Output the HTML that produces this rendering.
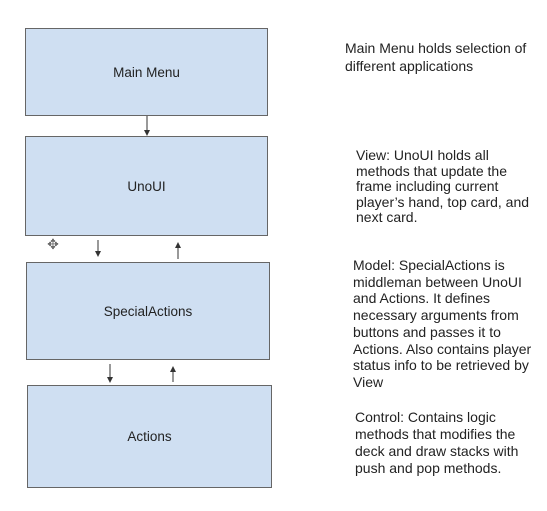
<!DOCTYPE html>
<html><head><style>
body{margin:0;width:547px;height:511px;background:#fff;position:relative;font-family:"Liberation Sans",sans-serif;overflow:hidden}
.b{position:absolute;background:#cfdff2;border:1.5px solid #666;box-sizing:border-box;display:flex;align-items:center;justify-content:center;font-size:13.5px;color:#222}
.t{position:absolute;font-size:14px;color:#222;white-space:nowrap}
svg{position:absolute;left:0;top:0}
</style></head><body>
<div class="b" style="left:25px;top:28px;width:243px;height:88px">Main Menu</div>
<div class="b" style="left:25px;top:136px;width:243px;height:100px">UnoUI</div>
<div class="b" style="left:26px;top:262px;width:244px;height:98px">SpecialActions</div>
<div class="b" style="left:27px;top:385px;width:245px;height:103px">Actions</div>
<div class="t" style="left:345px;top:39px;line-height:18px">Main Menu holds selection of<br>different applications</div>
<div class="t" style="left:356px;top:148px;line-height:15.5px">View: UnoUI holds all<br>methods that update the<br>frame including current<br>player’s hand, top card, and<br>next card.</div>
<div class="t" style="left:353px;top:257px;line-height:16.7px">Model: SpecialActions is<br>middleman between UnoUI<br>and Actions. It defines<br>necessary arguments from<br>buttons and passes it to<br>Actions. Also contains player<br>status info to be retrieved by<br>View</div>
<div class="t" style="left:355px;top:409px;line-height:17px">Control: Contains logic<br>methods that modifies the<br>deck and draw stacks with<br>push and pop methods.</div>
<svg width="547" height="511">
<defs><marker id="a" markerWidth="6" markerHeight="6" refX="5" refY="3" orient="auto"><path d="M0,0L6,3L0,6z" fill="#333"/></marker></defs>
<g stroke="#333" stroke-width="1" marker-end="url(#a)">
<line x1="147" y1="116" x2="147" y2="135"/>
<line x1="98" y1="240" x2="98" y2="256"/>
<line x1="178" y1="259" x2="178" y2="243"/>
<line x1="110" y1="364" x2="110" y2="382"/>
<line x1="173" y1="382" x2="173" y2="367"/>
</g>
<text x="53" y="249" font-size="14" text-anchor="middle" fill="#666">✥</text>
</svg>
</body></html>
